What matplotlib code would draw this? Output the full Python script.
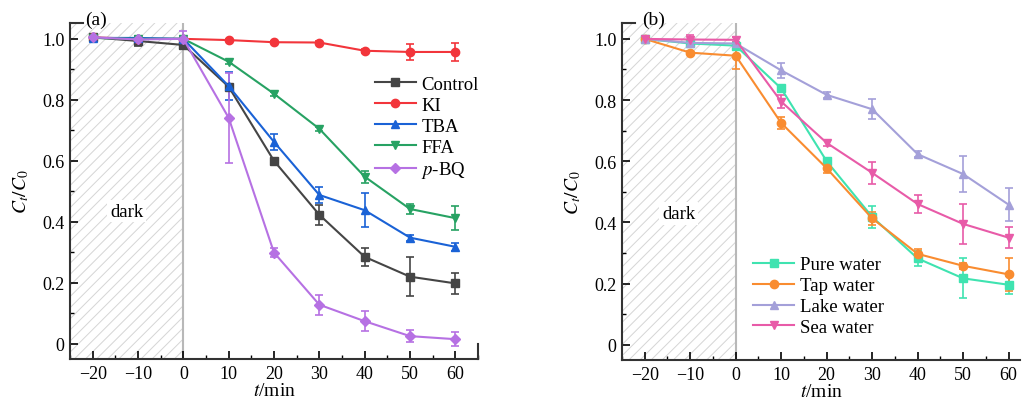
import matplotlib
matplotlib.use("Agg")
import matplotlib.pyplot as plt
from matplotlib.ticker import MultipleLocator, FixedLocator

plt.rcParams['font.family'] = ['Liberation Serif', 'DejaVu Serif']
plt.rcParams['mathtext.fontset'] = 'stix'
plt.rcParams['hatch.linewidth'] = 0.7
plt.rcParams['hatch.color'] = '#d5d5d5'

t = [-20, -10, 0, 10, 20, 30, 40, 50, 60]

# (a) scavenger experiments
control = [1.005, 0.993, 0.980, 0.843, 0.600, 0.423, 0.285, 0.220, 0.198]
control_err = [0.005, 0.015, 0.012, 0.010, 0.008, 0.033, 0.030, 0.065, 0.035]
ki = [1.005, 1.000, 1.000, 0.996, 0.989, 0.988, 0.961, 0.957, 0.957]
ki_err = [0.004, 0.004, 0.004, 0.004, 0.004, 0.004, 0.006, 0.025, 0.028]
tba = [1.003, 1.003, 1.000, 0.845, 0.662, 0.488, 0.438, 0.348, 0.318]
tba_err = [0.004, 0.008, 0.008, 0.047, 0.025, 0.025, 0.055, 0.010, 0.013]
ffa = [1.003, 1.000, 1.000, 0.925, 0.820, 0.705, 0.548, 0.442, 0.412]
ffa_err = [0.004, 0.004, 0.004, 0.006, 0.006, 0.006, 0.020, 0.015, 0.040]
pbq = [1.005, 0.998, 1.000, 0.741, 0.299, 0.128, 0.074, 0.025, 0.015]
pbq_err = [0.004, 0.006, 0.025, 0.148, 0.015, 0.033, 0.033, 0.020, 0.022]

# (b) water matrices
pure = [1.000, 0.985, 0.978, 0.838, 0.600, 0.418, 0.282, 0.217, 0.196]
pure_err = [0.004, 0.006, 0.006, 0.006, 0.006, 0.035, 0.025, 0.065, 0.030]
tap = [1.000, 0.955, 0.945, 0.725, 0.577, 0.413, 0.297, 0.258, 0.230]
tap_err = [0.004, 0.006, 0.045, 0.020, 0.015, 0.020, 0.015, 0.010, 0.055]
lake = [1.000, 0.987, 0.985, 0.897, 0.817, 0.770, 0.623, 0.558, 0.458]
lake_err = [0.006, 0.006, 0.006, 0.025, 0.010, 0.032, 0.010, 0.058, 0.055]
sea = [1.000, 0.998, 0.997, 0.795, 0.660, 0.562, 0.460, 0.395, 0.350]
sea_err = [0.006, 0.015, 0.008, 0.020, 0.010, 0.035, 0.030, 0.065, 0.035]

series_a = [
    ("Control", control, control_err, "#454545", "s"),
    ("KI", ki, ki_err, "#f2353b", "o"),
    ("TBA", tba, tba_err, "#1a62d6", "^"),
    ("FFA", ffa, ffa_err, "#27a263", "v"),
    ("$p$-BQ", pbq, pbq_err, "#b671e3", "D"),
]
series_b = [
    ("Pure water", pure, pure_err, "#3fe3b0", "s"),
    ("Tap water", tap, tap_err, "#f98c30", "o"),
    ("Lake water", lake, lake_err, "#a4a0d9", "^"),
    ("Sea water", sea, sea_err, "#e85ba8", "v"),
]

fig = plt.figure(figsize=(10.28, 4.02), dpi=100)
ax_a = fig.add_axes([70 / 1028, 42 / 402, 408 / 1028, 336 / 402])
ax_b = fig.add_axes([622 / 1028, 41 / 402, 398 / 1028, 337 / 402])


def draw_panel(ax, series, xmax, tag, tag_x, legend_anchor, text_y):
    ax.axvspan(-25, 0, facecolor='none', hatch='///', edgecolor='#d5d5d5', linewidth=0, zorder=0)
    ax.axvline(0, color='#b8b8b8', lw=1.5, zorder=1)
    lines = []
    for name, y, err, c, m in series:
        ms = 5.5 if m == "D" else 6
        eb = ax.errorbar(t, y, yerr=err, color=c, marker=m, ms=ms, lw=1.5,
                         elinewidth=1.2, capsize=3, capthick=1.2, zorder=3)
        lines.append(eb[0])
    ax.set_xlim(-25, xmax)
    ax.set_ylim(-0.05, 1.052)
    ax.set_xticks(range(-20, 61, 10))
    ax.set_xticklabels(["\u221220", "\u221210", "0", "10", "20", "30", "40", "50", "60"])
    ax.xaxis.set_minor_locator(MultipleLocator(5))
    ax.set_yticks([0, 0.2, 0.4, 0.6, 0.8, 1.0])
    ax.set_yticklabels(["0", "0.2", "0.4", "0.6", "0.8", "1.0"])
    ax.yaxis.set_minor_locator(FixedLocator([0.1, 0.3, 0.5, 0.7, 0.9]))
    ax.tick_params(which='major', direction='in', length=6, width=1.2, labelsize=13, pad=4)
    ax.tick_params(which='minor', direction='in', length=3, width=1)
    for s in ('top', 'right'):
        ax.spines[s].set_visible(False)
    for s in ('left', 'bottom'):
        ax.spines[s].set_linewidth(1.5)
        ax.spines[s].set_color('#333333')
    # short end bars on the axis frame
    ax.plot([0, 0.032], [1, 1], transform=ax.transAxes, color='#333333', lw=1.5, clip_on=False)
    if xmax > 63:
        ax.plot([1, 1], [0, 0.045], transform=ax.transAxes, color='#333333', lw=1.5, clip_on=False)
    ax.text(tag_x, 1.01, tag, transform=ax.transAxes, fontsize=14, ha='left', va='center')
    ax.text(-12.5, text_y, "dark", fontsize=13.5, ha='center', va='center',
            bbox=dict(facecolor='white', edgecolor='none', pad=2))
    ax.set_xlabel("$t$/min", fontsize=14, labelpad=0.5)
    ax.set_ylabel("$C_t/C_0$", fontsize=14, labelpad=8)
    ax.legend(lines, [s[0] for s in series], loc="upper left", bbox_to_anchor=legend_anchor,
              frameon=False, fontsize=13.5, handlelength=2.2, handletextpad=0.3,
              labelspacing=0.2, borderaxespad=0)


draw_panel(ax_a, series_a, 65, "(a)", 0.036, (0.728, 0.865), 0.435)
draw_panel(ax_b, series_b, 62.5, "(b)", 0.05, (0.31, 0.33), 0.43)

fig.savefig("out.png", dpi=100)
